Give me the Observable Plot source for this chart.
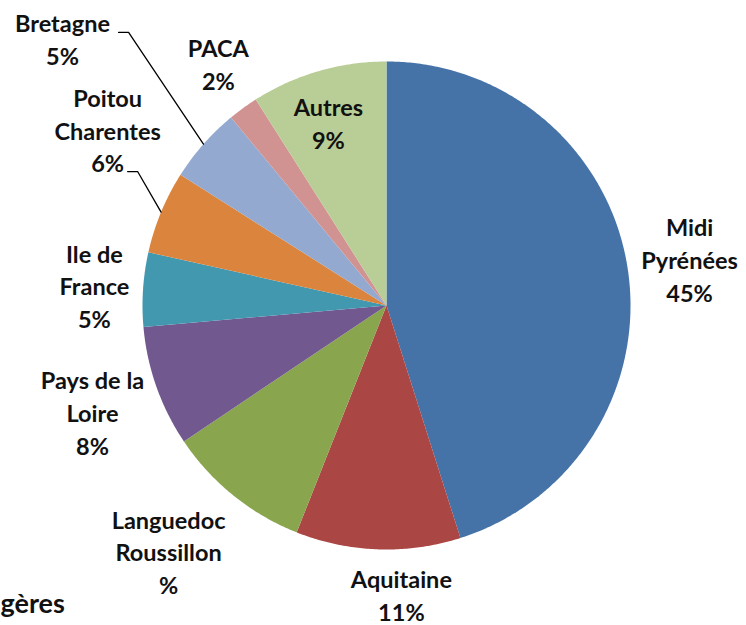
<!DOCTYPE html>
<html><head><meta charset="utf-8">
<script src="https://cdn.jsdelivr.net/npm/d3@7"></script>
<script src="https://cdn.jsdelivr.net/npm/@observablehq/plot@0.6"></script>
<style>body{margin:0;background:#fff} svg{display:block}</style>
</head><body><div id="chart"></div>
<script>
// ---- data ----
const regions = ["Midi Pyrénées","Aquitaine","Languedoc Roussillon","Pays de la Loire","Ile de France","Poitou Charentes","Bretagne","PACA","Autres"];
const shares = [45.1, 10.9, 9.6, 8.0, 4.9, 5.5, 5.0, 2.0, 9.0];
const labelNames = ["Midi\nPyrénées","Aquitaine","Languedoc\nRoussillon","Pays de la\nLoire","Ile de\nFrance","Poitou\nCharentes","Bretagne","PACA","Autres"];
const pctLabels = ["45%","11%","%","8%","5%","6%","5%","2%","9%"];
const titleFragment = "gères";

// ---- styles / layout ----
const colors = ["#4572A7","#AA4643","#89A54E","#71588F","#4198AF","#DB843D","#93A9CF","#D19392","#B9CD96"];
// label centres in pie-radius units (pie centre = 0,0; radius = 1)
const labelPos = [[1.242,0.184],[0.061,-1.193],[-0.893,-1.016],[-1.205,-0.443],[-1.197,0.074],[-1.143,0.713],[-1.328,1.086],[-0.689,0.984],[-0.238,0.742]];
// leader line starting points (label side), in radius units
const leaders = {"Bretagne": [[-1.098,1.119],[-1.057,1.119]], "Poitou Charentes": [[-1.061,0.549],[-1.020,0.549]]};

const arcs = d3.pie().sort(null).value(d => d)(shares);
const slicePts = [];
arcs.forEach((a, i) => {
  const n = Math.max(2, Math.ceil((a.endAngle - a.startAngle) / (Math.PI / 360)));
  slicePts.push({region: regions[i], x: 0, y: 0});
  for (let k = 0; k <= n; k++) {
    const t = a.startAngle + (a.endAngle - a.startAngle) * k / n;
    slicePts.push({region: regions[i], x: Math.sin(t), y: Math.cos(t)});
  }
});

const labels = regions.map((r, i) => ({region: r, x: labelPos[i][0], y: labelPos[i][1], text: labelNames[i] + "\n" + pctLabels[i]}));

const leaderPts = [];
Object.entries(leaders).forEach(([r, pts]) => {
  const a = arcs[regions.indexOf(r)];
  const mid = (a.startAngle + a.endAngle) / 2;
  pts.forEach(p => leaderPts.push({region: r, x: p[0], y: p[1]}));
  leaderPts.push({region: r, x: Math.sin(mid), y: Math.cos(mid)});
});

const chart = Plot.plot({
  width: 746, height: 625,
  marginLeft: 142, marginRight: 116, marginTop: 61, marginBottom: 76,
  x: {domain: [-1, 1], axis: null},
  y: {domain: [-1, 1], axis: null},
  color: {domain: regions, range: colors},
  style: {fontFamily: "Lato, 'Open Sans', sans-serif", background: "#fff"},
  marks: [
    Plot.line(slicePts, {x: "x", y: "y", z: "region", fill: "region", stroke: "none", curve: "linear"}),
    Plot.line(leaderPts, {x: "x", y: "y", z: "region", stroke: "black", strokeWidth: 1.3}),
    Plot.text(labels, {x: "x", y: "y", text: "text", dy: -2.5, fontSize: 23.5, fontWeight: "bold", lineHeight: 1.4, fill: "#111", fontFamily: "Lato"}),
    Plot.text([titleFragment], {frameAnchor: "bottom-left", text: d => d, textAnchor: "start", dx: -142, dy: 63, fontSize: 27, fontWeight: "bold", fill: "#111", fontFamily: "Lato"})
  ]
});
document.getElementById("chart").append(chart);
</script>
</body></html>
